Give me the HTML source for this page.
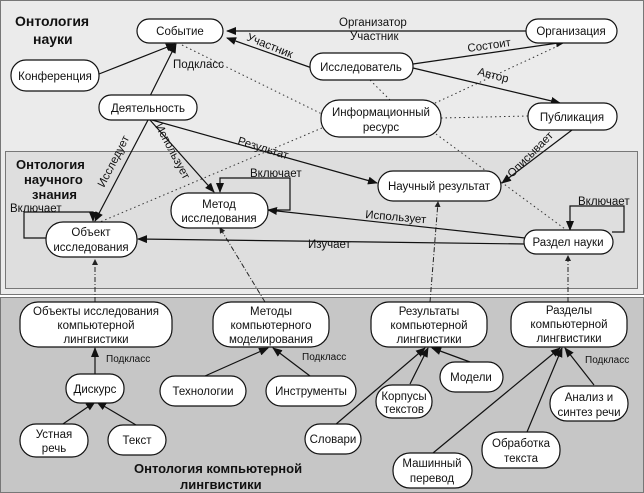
<!DOCTYPE html>
<html><head><meta charset="utf-8"><style>
html,body{margin:0;padding:0;background:#fff;}
svg{display:block;font-family:"Liberation Sans",Arial,sans-serif;}
text{font-size:11.5px;fill:#111;}
.b{font-weight:bold;font-size:14px;}
.n{fill:#fff;stroke:#111;stroke-width:1.2;}
.e{stroke:#111;stroke-width:1.2;fill:none;}
.d{stroke:#333;stroke-width:1;fill:none;stroke-dasharray:1.5 3;}
.dd{stroke:#222;stroke-width:1;fill:none;stroke-dasharray:5 2 1 2;}
</style></head><body>
<svg width="644" height="493" viewBox="0 0 644 493" xmlns="http://www.w3.org/2000/svg">
<defs>
<marker id="a" markerWidth="10" markerHeight="8" refX="9" refY="4" orient="auto" markerUnits="userSpaceOnUse"><path d="M0,0 L10,4 L0,8 z" fill="#111"/></marker>
<marker id="s" markerWidth="6" markerHeight="6" refX="5" refY="3" orient="auto" markerUnits="userSpaceOnUse"><path d="M0,0 L6,3 L0,6 z" fill="#222"/></marker>
</defs>
<rect x="0.5" y="0.5" width="643" height="294" fill="#ebebeb" stroke="#777"/>
<rect x="5.5" y="151.5" width="632" height="137" fill="#dedede" stroke="#777"/>
<rect x="0.5" y="297.5" width="643" height="195" fill="#c6c6c6" stroke="#777"/>

<text class="b" x="15" y="26">Онтология</text>
<text class="b" x="33" y="44">науки</text>
<text class="b" x="16" y="169" style="font-size:13px">Онтология</text>
<text class="b" x="24" y="184" style="font-size:13px">научного</text>
<text class="b" x="32" y="199" style="font-size:13px">знания</text>
<text class="b" x="134" y="473" style="font-size:13px">Онтология компьютерной</text>
<text class="b" x="180" y="489" style="font-size:13px">лингвистики</text>

<!-- dotted -->
<path class="d" d="M182,45 L330,118"/>
<path class="d" d="M370,80 L390,100"/>
<path class="d" d="M390,124 L560,45"/>
<path class="d" d="M441,118 L528,116"/>
<path class="d" d="M436,134 L565,229"/>
<path class="d" d="M322,128 L100,222"/>

<!-- dash-dot -->
<path class="dd" d="M95,302 L95,260" marker-end="url(#s)"/>
<path class="dd" d="M265,302 L220,228" marker-end="url(#s)"/>
<path class="dd" d="M430,302 L438,202" marker-end="url(#s)"/>
<path class="dd" d="M568,302 L568,256" marker-end="url(#s)"/>

<!-- solid edges -->
<path class="e" d="M526,31 L227,31" marker-end="url(#a)"/>
<path class="e" d="M312,68 L227,38" marker-end="url(#a)"/>
<path class="e" d="M413,64 L565,42" marker-end="url(#a)"/>
<path class="e" d="M413,68 L560,103" marker-end="url(#a)"/>
<path class="e" d="M99,74 L175,44" marker-end="url(#a)"/>
<path class="e" d="M150,96 L176,44" marker-end="url(#a)"/>
<path class="e" d="M148,120 L95,221" marker-end="url(#a)"/>
<path class="e" d="M150,120 L214,192" marker-end="url(#a)"/>
<path class="e" d="M152,120 L377,183" marker-end="url(#a)"/>
<path class="e" d="M572,130 L502,183" marker-end="url(#a)"/>
<path class="e" d="M525,238 L268,210" marker-end="url(#a)"/>
<path class="e" d="M525,244 L138,239" marker-end="url(#a)"/>
<path class="e" d="M268,210 L290,210 L290,178 L220,178 L220,192" marker-end="url(#a)"/>
<path class="e" d="M47,238 L24,238 L24,212 L93,212 L93,221" marker-end="url(#a)"/>
<path class="e" d="M612,232 L624,232 L624,206 L570,206 L570,230" marker-end="url(#a)"/>

<path class="e" d="M95,374 L95,348" marker-end="url(#a)"/>
<path class="e" d="M60,426 L95,402" marker-end="url(#a)"/>
<path class="e" d="M136,425 L97,402" marker-end="url(#a)"/>
<path class="e" d="M205,376 L268,348" marker-end="url(#a)"/>
<path class="e" d="M310,376 L273,348" marker-end="url(#a)"/>
<path class="e" d="M410,384 L428,348" marker-end="url(#a)"/>
<path class="e" d="M470,362 L432,348" marker-end="url(#a)"/>
<path class="e" d="M335,425 L425,348" marker-end="url(#a)"/>
<path class="e" d="M433,453 L560,348" marker-end="url(#a)"/>
<path class="e" d="M527,432 L562,348" marker-end="url(#a)"/>
<path class="e" d="M594,385 L565,348" marker-end="url(#a)"/>

<!-- edge labels -->
<text x="339" y="26">Организатор</text>
<text x="350" y="40">Участник</text>
<text x="246" y="40" transform="rotate(22 246 40)">Участник</text>
<text x="468" y="52" transform="rotate(-8 468 52)">Состоит</text>
<text x="477" y="75" transform="rotate(14 477 75)">Автор</text>
<text x="173" y="68">Подкласс</text>
<text x="237" y="144" transform="rotate(17 237 144)">Результат</text>
<text x="155" y="126" transform="rotate(62 155 126)">Использует</text>
<text x="104" y="188" transform="rotate(-63 104 188)">Исследует</text>
<text x="250" y="177">Включает</text>
<text x="10" y="212">Включает</text>
<text x="578" y="205">Включает</text>
<text x="365" y="218" transform="rotate(5 365 218)">Использует</text>
<text x="308" y="248">Изучает</text>
<text x="512" y="178" transform="rotate(-45 512 178)">Описывает</text>
<text x="106" y="362" style="font-size:10px">Подкласс</text>
<text x="302" y="360" style="font-size:10px">Подкласс</text>
<text x="585" y="363" style="font-size:10px">Подкласс</text>

<!-- nodes -->
<g text-anchor="middle">
<rect class="n" x="137" y="19" width="86" height="24" rx="12"/><text x="180" y="35">Событие</text>
<rect class="n" x="526" y="19" width="91" height="24" rx="12"/><text x="571" y="35">Организация</text>
<rect class="n" x="11" y="60" width="88" height="31" rx="15"/><text x="55" y="80">Конференция</text>
<rect class="n" x="310" y="53" width="103" height="27" rx="13"/><text x="361" y="71">Исследователь</text>
<rect class="n" x="99" y="95" width="98" height="25" rx="12"/><text x="148" y="112">Деятельность</text>
<rect class="n" x="321" y="100" width="120" height="37" rx="18"/><text x="381" y="116">Информационный</text><text x="381" y="131">ресурс</text>
<rect class="n" x="528" y="103" width="89" height="27" rx="13"/><text x="572" y="121">Публикация</text>
<rect class="n" x="378" y="171" width="123" height="30" rx="15"/><text x="439" y="190">Научный результат</text>
<rect class="n" x="171" y="193" width="97" height="35" rx="17"/><text x="219" y="208">Метод</text><text x="219" y="222">исследования</text>
<rect class="n" x="46" y="222" width="91" height="35" rx="17"/><text x="91" y="236">Объект</text><text x="91" y="251">исследования</text>
<rect class="n" x="524" y="230" width="89" height="24" rx="12"/><text x="568" y="246">Раздел науки</text>

<rect class="n" x="20" y="302" width="152" height="45" rx="18"/><text x="96" y="315">Объекты исследования</text><text x="96" y="329">компьютерной</text><text x="96" y="343">лингвистики</text>
<rect class="n" x="213" y="302" width="116" height="45" rx="18"/><text x="271" y="315">Методы</text><text x="271" y="329">компьютерного</text><text x="271" y="343">моделирования</text>
<rect class="n" x="371" y="302" width="116" height="45" rx="18"/><text x="429" y="315">Результаты</text><text x="429" y="329">компьютерной</text><text x="429" y="343">лингвистики</text>
<rect class="n" x="511" y="302" width="116" height="45" rx="18"/><text x="569" y="314">Разделы</text><text x="569" y="328">компьютерной</text><text x="569" y="342">лингвистики</text>
<rect class="n" x="66" y="374" width="58" height="29" rx="14"/><text x="95" y="393">Дискурс</text>
<rect class="n" x="20" y="424" width="68" height="33" rx="16"/><text x="54" y="438">Устная</text><text x="54" y="452">речь</text>
<rect class="n" x="108" y="425" width="58" height="30" rx="15"/><text x="137" y="444">Текст</text>
<rect class="n" x="160" y="376" width="86" height="30" rx="15"/><text x="203" y="395">Технологии</text>
<rect class="n" x="266" y="376" width="90" height="30" rx="15"/><text x="311" y="395">Инструменты</text>
<rect class="n" x="440" y="362" width="63" height="30" rx="15"/><text x="471" y="381">Модели</text>
<rect class="n" x="376" y="385" width="56" height="33" rx="16"/><text x="404" y="400">Корпусы</text><text x="404" y="413">текстов</text>
<rect class="n" x="550" y="386" width="78" height="35" rx="17"/><text x="589" y="401">Анализ и</text><text x="589" y="416">синтез  речи</text>
<rect class="n" x="305" y="424" width="56" height="30" rx="15"/><text x="333" y="443">Словари</text>
<rect class="n" x="482" y="432" width="78" height="36" rx="17"/><text x="521" y="447">Обработка</text><text x="521" y="462">текста</text>
<rect class="n" x="393" y="453" width="79" height="35" rx="17"/><text x="432" y="467">Машинный</text><text x="432" y="482">перевод</text>
</g>
</svg>
</body></html>
